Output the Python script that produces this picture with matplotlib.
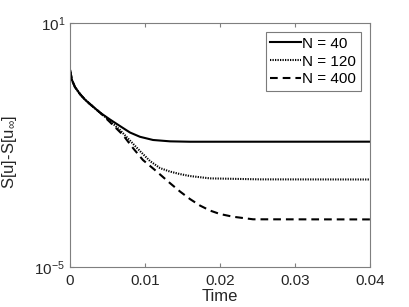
import matplotlib
matplotlib.use("Agg")
import matplotlib.pyplot as plt
from matplotlib.ticker import FixedLocator, NullLocator

plt.rcParams['font.family'] = ['Liberation Sans', 'DejaVu Sans']
plt.rcParams['mathtext.fontset'] = 'custom'
plt.rcParams['mathtext.rm'] = 'Liberation Sans'
plt.rcParams['mathtext.it'] = 'Liberation Sans'

# values
t_40 = [0, 0.00027, 0.00067, 0.00133, 0.002, 0.00267, 0.004, 0.00533, 0.00667,
        0.008, 0.00933, 0.01107, 0.01333, 0.016, 0.04]
s_40 = [0.706, 0.39, 0.262, 0.177, 0.129, 0.100, 0.0619, 0.0418, 0.0288,
        0.0200, 0.0157, 0.0131, 0.01213, 0.01186, 0.0119]

t_120 = [0, 0.00027, 0.00067, 0.00133, 0.002, 0.00267, 0.004, 0.00533, 0.00667,
         0.008, 0.00933, 0.01067, 0.012, 0.01333, 0.01467, 0.016, 0.01867,
         0.02533, 0.04]
s_120 = [0.706, 0.39, 0.262, 0.177, 0.129, 0.100, 0.0619, 0.0383, 0.0230,
         0.01268, 0.0070, 0.00397, 0.00267, 0.00219, 0.0019, 0.0017, 0.00149,
         0.00141, 0.0014]

t_400 = [0, 0.00027, 0.00067, 0.00133, 0.002, 0.00267, 0.004, 0.00533, 0.00707,
         0.0084, 0.00973, 0.01133, 0.01333, 0.01467, 0.016, 0.01733, 0.01867,
         0.02, 0.02173, 0.0244, 0.04]
s_400 = [0.706, 0.39, 0.262, 0.177, 0.129, 0.100, 0.0619, 0.0361, 0.01734,
         0.0083, 0.00421, 0.00239, 0.00114, 0.000708, 0.000462, 0.00032,
         0.000241, 0.000198, 0.00017, 0.000147, 0.000146]

labels = ['N = 40', 'N = 120', 'N = 400']
x_ticks = [0, 0.01, 0.02, 0.03, 0.04]
x_ticklabels = ['0', '0.01', '0.02', '0.03', '0.04']
y_ticks = [1e-5, 1e1]
y_ticklabels = [r'$10^{-5}$', r'$10^{1}$']

fig = plt.figure(figsize=(4.09, 3.07), dpi=100)
ax = fig.add_axes([0.171, 0.131, 0.734, 0.795])

ax.plot(t_40, s_40, color='black', lw=1.5, linestyle='-', label=labels[0])
ax.plot(t_120, s_120, color='black', lw=1.5, linestyle=(0, (0.6, 0.6)), label=labels[1])
ax.plot(t_400, s_400, color='black', lw=1.5, linestyle=(0, (3.7, 2.4)), label=labels[2])

ax.set_yscale('log')
ax.set_xlim(0, 0.04)
ax.set_ylim(1e-5, 1e1)
ax.xaxis.set_major_locator(FixedLocator(x_ticks))
ax.set_xticklabels(x_ticklabels)
ax.yaxis.set_major_locator(FixedLocator(y_ticks))
ax.yaxis.set_minor_locator(NullLocator())
ax.set_yticklabels(y_ticklabels)

gray = '#262626'
for sp in ax.spines.values():
    sp.set_color('#7f7f7f')
    sp.set_linewidth(0.8)
ax.tick_params(axis='both', which='both', direction='in', length=3,
               color='#7f7f7f', labelsize=11, labelcolor=gray,
               top=True, right=False)
ax.tick_params(axis='x', pad=5)

ax.set_xlabel('Time', fontsize=12, color=gray, labelpad=1)
ax.set_ylabel(r'S[u]-S[u$_{\infty}$]', fontsize=12, color=gray)
ax.yaxis.set_label_coords(-0.17, 0.47)

leg = ax.legend(loc='upper right', bbox_to_anchor=(0.969, 0.961), fontsize=11,
                frameon=True, fancybox=False, handlelength=2.0,
                handletextpad=0.1, borderpad=0.3, labelspacing=0.25,
                borderaxespad=0)
leg.get_frame().set_edgecolor('#5a5a5a')
leg.get_frame().set_linewidth(0.8)

fig.savefig('out.png', dpi=100)
